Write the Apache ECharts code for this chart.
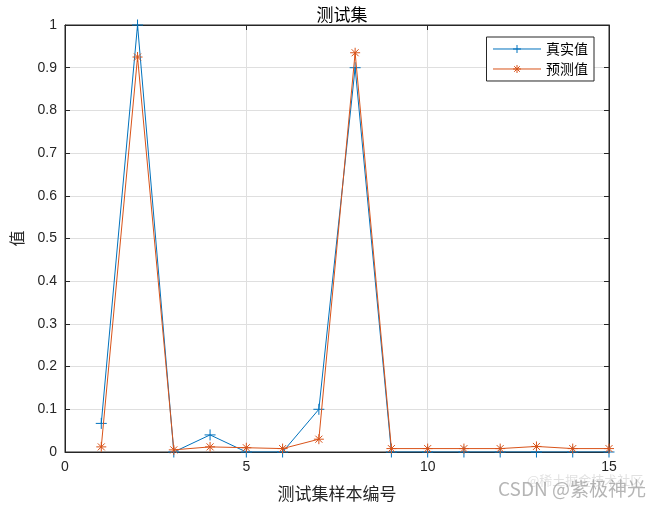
<!DOCTYPE html>
<html><head><meta charset="utf-8">
<script src="https://cdn.jsdelivr.net/npm/echarts@6/dist/echarts.min.js"></script>
<style>html,body{margin:0;padding:0;background:#fff}#c{width:665px;height:507px}</style>
</head><body><div id="c"></div>
<script>
const samples = [1,2,3,4,5,6,7,8,9,10,11,12,13,14,15];
const trueVals = [0.067,1.0,0,0.04,0,0,0.1,0.9,0,0,0,0,0,0,0];
const predVals = [0.012,0.925,0.005,0.012,0.01,0.008,0.03,0.935,0.008,0.008,0.008,0.008,0.013,0.008,0.008];
const xTicks = [0,5,10,15];
const yTicks = [0,0.1,0.2,0.3,0.4,0.5,0.6,0.7,0.8,0.9,1];

const BLUE = '#0072BD', ORANGE = '#D95319', AX = '#262626';
const cjk = '"Noto Sans CJK SC", sans-serif';
const lat = '"Liberation Sans", Arial, sans-serif';
const plusPath = 'path://M0,-1L0,1M-1,0L1,0';
const starPath = 'path://M0,-1L0,1M-1,0L1,0M-0.7,-0.7L0.7,0.7M-0.7,0.7L0.7,-0.7';

const chart = echarts.init(document.getElementById('c'), null, {renderer:'canvas'});
const tickCommon = {show:true, inside:true, length:5, lineStyle:{color:AX,width:1}};
chart.setOption({
  animation:false,
  backgroundColor:'#fff',
  title:{text:'测试集', left:337, top:1, textAlign:'center',
    textStyle:{fontFamily:cjk, fontSize:17, fontWeight:'normal', color:'#000'}},
  grid:{left:65, right:56, top:25, bottom:54, show:true, borderColor:AX, borderWidth:1, backgroundColor:'transparent'},
  legend:{orient:'vertical', right:71, top:37, backgroundColor:'#fff', borderColor:AX, borderWidth:1,
    padding:[5,6,5,6], itemGap:6, itemWidth:48, itemHeight:10,
    lineStyle:{width:1}, itemStyle:{borderWidth:1},
    textStyle:{fontFamily:cjk, fontSize:14, color:'#000'},
    data:['真实值','预测值']},
  xAxis:[{type:'value', min:0, max:15, interval:5, position:'bottom',
      name:'测试集样本编号', nameLocation:'middle', nameGap:33,
      nameTextStyle:{fontFamily:cjk, fontSize:17, color:'#262626'},
      axisLine:{show:true, onZero:false, lineStyle:{color:AX}},
      axisTick:tickCommon,
      axisLabel:{fontFamily:lat, fontSize:14, color:'#262626', margin:8,
        formatter:v=> xTicks.includes(v) ? String(v) : ''},
      splitLine:{show:true, lineStyle:{color:'#dfdfdf', width:1}}},
    {type:'value', min:0, max:15, interval:5, position:'top',
      axisLine:{show:true, onZero:false, lineStyle:{color:AX}}, axisTick:tickCommon,
      axisLabel:{show:false}, splitLine:{show:false}}],
  yAxis:[{type:'value', min:0, max:1, interval:0.1, position:'left',
      name:'值', nameLocation:'middle', nameGap:40, nameRotate:90,
      nameTextStyle:{fontFamily:cjk, fontSize:16, color:'#262626'},
      axisLine:{show:true, onZero:false, lineStyle:{color:AX}},
      axisTick:tickCommon,
      axisLabel:{fontFamily:lat, fontSize:14, color:'#262626', margin:8,
        formatter:v=>{const t=yTicks.find(y=>Math.abs(y-v)<1e-9); return t===undefined?'':String(t);}},
      splitLine:{show:true, lineStyle:{color:'#dfdfdf', width:1}}},
    {type:'value', min:0, max:1, interval:0.1, position:'right',
      axisLine:{show:true, onZero:false, lineStyle:{color:AX}}, axisTick:tickCommon,
      axisLabel:{show:false}, splitLine:{show:false}}],
  series:[
    {name:'真实值', type:'line', data:samples.map((s,i)=>[s,trueVals[i]]),
      symbol:plusPath, symbolSize:11, showAllSymbol:true,
      lineStyle:{color:BLUE, width:1},
      itemStyle:{color:BLUE, borderColor:BLUE, borderWidth:1},
      emphasis:{disabled:true}, z:3},
    {name:'预测值', type:'line', data:samples.map((s,i)=>[s,predVals[i]]),
      symbol:starPath, symbolSize:10, showAllSymbol:true,
      lineStyle:{color:ORANGE, width:1},
      itemStyle:{color:ORANGE, borderColor:ORANGE, borderWidth:1},
      emphasis:{disabled:true}, z:4}
  ],
  graphic:[
    {type:'text', left:527, top:474, z:99,
      style:{text:'@稀土掘金技术社区', fontFamily:cjk, fontSize:13, fill:'rgba(170,170,170,0.35)'}},
    {type:'text', left:498, top:479, z:100,
      style:{text:'CSDN @紫极神光', fontFamily:cjk, fontSize:19, fill:'rgba(150,150,150,0.7)'}}]
});
</script></body></html>
